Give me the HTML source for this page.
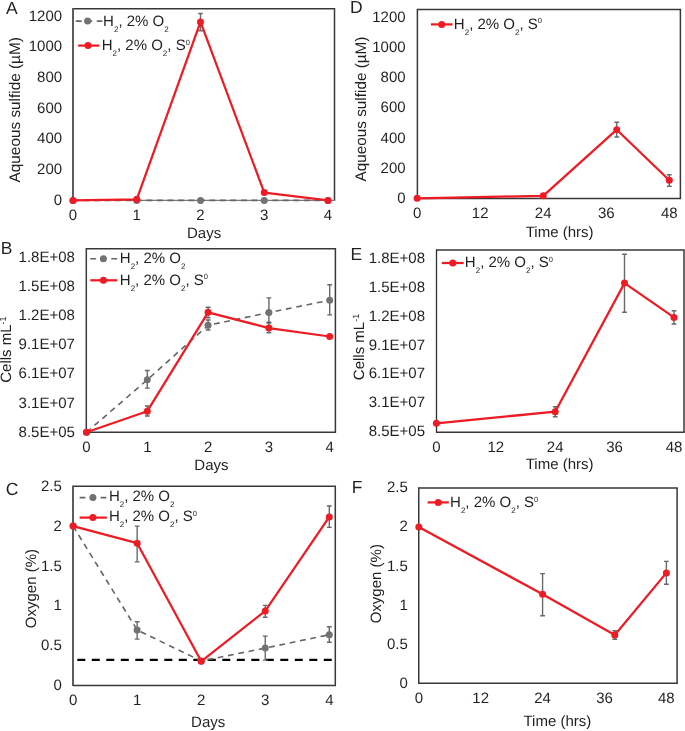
<!DOCTYPE html>
<html><head><meta charset="utf-8"><style>
html,body{margin:0;padding:0;background:#fff;}
body{width:685px;height:731px;overflow:hidden;}
svg{display:block;filter:blur(0.35px);}
text{font-family:"Liberation Sans",sans-serif;fill:#231f20;text-rendering:geometricPrecision;}
</style></head><body>
<svg width="685" height="731" viewBox="0 0 685 731">
<rect width="685" height="731" fill="#fff"/>
<path d="M73 8.75H334.5V200.4" fill="none" stroke="#3a3738" stroke-width="1.5"/>
<line x1="73" y1="8.05" x2="73" y2="201.1" stroke="#5f5b5c" stroke-width="2.0"/>
<line x1="73" y1="200.4" x2="335.2" y2="200.4" stroke="#7a7878" stroke-width="1.4"/>
<text x="62.1" y="204.5" text-anchor="end" font-size="15" >0</text>
<text x="62.1" y="173.84" text-anchor="end" font-size="15" >200</text>
<text x="62.1" y="143.18" text-anchor="end" font-size="15" >400</text>
<text x="62.1" y="112.52" text-anchor="end" font-size="15" >600</text>
<text x="62.1" y="81.86" text-anchor="end" font-size="15" >800</text>
<text x="62.1" y="51.2" text-anchor="end" font-size="15" >1000</text>
<text x="62.1" y="20.54" text-anchor="end" font-size="15" >1200</text>
<text x="73" y="220.3" text-anchor="middle" font-size="15" >0</text>
<text x="136.75" y="220.3" text-anchor="middle" font-size="15" >1</text>
<text x="200.5" y="220.3" text-anchor="middle" font-size="15" >2</text>
<text x="264.25" y="220.3" text-anchor="middle" font-size="15" >3</text>
<text x="328" y="220.3" text-anchor="middle" font-size="15" >4</text>
<text x="204.1" y="237.9" text-anchor="middle" font-size="15" >Days</text>
<text transform="translate(19.8 109.8) rotate(-90)" text-anchor="middle" font-size="15.35">Aqueous sulfide (µM)</text>
<text x="5.9" y="13.9" font-size="17.5">A</text>
<polyline points="73,200.4 136.75,200.4 200.5,200.4 264.25,200.4 328,200.4" fill="none" stroke="#686464" stroke-width="1.6" stroke-dasharray="5.8 4.7" stroke-linejoin="round"/>
<circle cx="73" cy="200.4" r="3.5" fill="#767171"/>
<circle cx="136.75" cy="200.4" r="3.5" fill="#767171"/>
<circle cx="200.5" cy="200.4" r="3.5" fill="#767171"/>
<circle cx="264.25" cy="200.4" r="3.5" fill="#767171"/>
<circle cx="328" cy="200.4" r="3.5" fill="#767171"/>
<path d="M200.5 13.5V30.7M198.1 13.5H202.9M198.1 30.7H202.9" stroke="#676a6a" stroke-width="1.4" fill="none"/>
<polyline points="73,200.4 136.75,199.3 200.5,21.9 264.25,192.6 328,200.4" fill="none" stroke="#ed1c24" stroke-width="2.25" stroke-linejoin="round"/>
<circle cx="73" cy="200.4" r="3.5" fill="#ed1c24"/>
<circle cx="136.75" cy="199.3" r="3.5" fill="#ed1c24"/>
<circle cx="200.5" cy="21.9" r="3.5" fill="#ed1c24"/>
<circle cx="264.25" cy="192.6" r="3.5" fill="#ed1c24"/>
<circle cx="328" cy="200.4" r="3.5" fill="#ed1c24"/>
<line x1="75.8" y1="21.1" x2="102.4" y2="21.1" stroke="#686464" stroke-width="1.6" stroke-dasharray="5.8 4.7"/>
<circle cx="87.6" cy="21.1" r="3.5" fill="#767171"/>
<text x="103.1" y="25.7" text-anchor="start" font-size="15" >H<tspan font-size="8" dy="6">2</tspan><tspan dy="-6">, 2% O</tspan><tspan font-size="8" dy="6">2</tspan></text>
<line x1="78.1" y1="45.6" x2="99.4" y2="45.6" stroke="#ed1c24" stroke-width="2.25"/>
<circle cx="88" cy="45.6" r="3.5" fill="#ed1c24"/>
<text x="101.7" y="50" text-anchor="start" font-size="15" >H<tspan font-size="8" dy="6">2</tspan><tspan dy="-6">, 2% O</tspan><tspan font-size="8" dy="6">2</tspan><tspan dy="-6">, S</tspan><tspan font-size="7.5" dy="-5.4">0</tspan></text>
<path d="M86.3 248.7H335.4V432.3" fill="none" stroke="#3a3738" stroke-width="1.5"/>
<line x1="86.3" y1="248" x2="86.3" y2="433" stroke="#3a3738" stroke-width="1.5"/>
<line x1="86.3" y1="432.3" x2="336.1" y2="432.3" stroke="#3a3738" stroke-width="1.5"/>
<text x="74.9" y="436.7" text-anchor="end" font-size="15" >8.5E+05</text>
<text x="74.9" y="407.55" text-anchor="end" font-size="15" >3.1E+07</text>
<text x="74.9" y="378.4" text-anchor="end" font-size="15" >6.1E+07</text>
<text x="74.9" y="349.25" text-anchor="end" font-size="15" >9.1E+07</text>
<text x="74.9" y="320.1" text-anchor="end" font-size="15" >1.2E+08</text>
<text x="74.9" y="290.95" text-anchor="end" font-size="15" >1.5E+08</text>
<text x="74.9" y="261.8" text-anchor="end" font-size="15" >1.8E+08</text>
<text x="86.5" y="452.2" text-anchor="middle" font-size="15" >0</text>
<text x="147.3" y="452.2" text-anchor="middle" font-size="15" >1</text>
<text x="208.1" y="452.2" text-anchor="middle" font-size="15" >2</text>
<text x="268.9" y="452.2" text-anchor="middle" font-size="15" >3</text>
<text x="329.7" y="452.2" text-anchor="middle" font-size="15" >4</text>
<text x="211.4" y="470.2" text-anchor="middle" font-size="15" >Days</text>
<text transform="translate(11.3 349.6) rotate(-90)" text-anchor="middle" font-size="15">Cells mL<tspan font-size="9" dy="-5">-1</tspan></text>
<text x="0.7" y="253.5" font-size="17.5">B</text>
<path d="M147.3 370.5V388.1M144.9 370.5H149.7M144.9 388.1H149.7" stroke="#676a6a" stroke-width="1.4" fill="none"/>
<path d="M208.1 320V330M205.7 320H210.5M205.7 330H210.5" stroke="#676a6a" stroke-width="1.4" fill="none"/>
<path d="M268.9 297.9V322.3M266.5 297.9H271.3M266.5 322.3H271.3" stroke="#676a6a" stroke-width="1.4" fill="none"/>
<path d="M329.7 284.7V314.9M327.3 284.7H332.1M327.3 314.9H332.1" stroke="#676a6a" stroke-width="1.4" fill="none"/>
<polyline points="86.5,432.3 147.3,379.8 208.1,325.3 268.9,312.6 329.7,300.2" fill="none" stroke="#686464" stroke-width="1.6" stroke-dasharray="5.8 4.7" stroke-linejoin="round"/>
<circle cx="86.5" cy="432.3" r="3.5" fill="#767171"/>
<circle cx="147.3" cy="379.8" r="3.5" fill="#767171"/>
<circle cx="208.1" cy="325.3" r="3.5" fill="#767171"/>
<circle cx="268.9" cy="312.6" r="3.5" fill="#767171"/>
<circle cx="329.7" cy="300.2" r="3.5" fill="#767171"/>
<path d="M147.3 406V416M144.9 406H149.7M144.9 416H149.7" stroke="#676a6a" stroke-width="1.4" fill="none"/>
<path d="M208.1 307.2V317.7M205.7 307.2H210.5M205.7 317.7H210.5" stroke="#676a6a" stroke-width="1.4" fill="none"/>
<path d="M268.9 323V332.8M266.5 323H271.3M266.5 332.8H271.3" stroke="#676a6a" stroke-width="1.4" fill="none"/>
<polyline points="86.5,432.3 147.3,411.2 208.1,312.3 268.9,328.1 329.7,336.5" fill="none" stroke="#ed1c24" stroke-width="2.25" stroke-linejoin="round"/>
<circle cx="86.5" cy="432.3" r="3.5" fill="#ed1c24"/>
<circle cx="147.3" cy="411.2" r="3.5" fill="#ed1c24"/>
<circle cx="208.1" cy="312.3" r="3.5" fill="#ed1c24"/>
<circle cx="268.9" cy="328.1" r="3.5" fill="#ed1c24"/>
<circle cx="329.7" cy="336.5" r="3.5" fill="#ed1c24"/>
<line x1="90.3" y1="258.7" x2="117.3" y2="258.7" stroke="#686464" stroke-width="1.6" stroke-dasharray="5.8 4.7"/>
<circle cx="103.4" cy="258.7" r="3.5" fill="#767171"/>
<text x="119.8" y="262.8" text-anchor="start" font-size="15" >H<tspan font-size="8" dy="6">2</tspan><tspan dy="-6">, 2% O</tspan><tspan font-size="8" dy="6">2</tspan></text>
<line x1="90.3" y1="280.3" x2="117.3" y2="280.3" stroke="#ed1c24" stroke-width="2.25"/>
<circle cx="103.4" cy="280.3" r="3.5" fill="#ed1c24"/>
<text x="119.8" y="284.5" text-anchor="start" font-size="15" >H<tspan font-size="8" dy="6">2</tspan><tspan dy="-6">, 2% O</tspan><tspan font-size="8" dy="6">2</tspan><tspan dy="-6">, S</tspan><tspan font-size="7.5" dy="-5.4">0</tspan></text>
<path d="M73 486.3H335.3V685.4" fill="none" stroke="#3a3738" stroke-width="1.5"/>
<line x1="73" y1="485.6" x2="73" y2="686.1" stroke="#5f5b5c" stroke-width="2.0"/>
<line x1="73" y1="685.4" x2="336" y2="685.4" stroke="#3a3738" stroke-width="1.5"/>
<text x="61.8" y="689.8" text-anchor="end" font-size="15" >0</text>
<text x="61.8" y="650.04" text-anchor="end" font-size="15" >0.5</text>
<text x="61.8" y="610.28" text-anchor="end" font-size="15" >1</text>
<text x="61.8" y="570.52" text-anchor="end" font-size="15" >1.5</text>
<text x="61.8" y="530.76" text-anchor="end" font-size="15" >2</text>
<text x="61.8" y="491" text-anchor="end" font-size="15" >2.5</text>
<text x="73.1" y="705.3" text-anchor="middle" font-size="15" >0</text>
<text x="137.15" y="705.3" text-anchor="middle" font-size="15" >1</text>
<text x="201.2" y="705.3" text-anchor="middle" font-size="15" >2</text>
<text x="265.25" y="705.3" text-anchor="middle" font-size="15" >3</text>
<text x="329.3" y="705.3" text-anchor="middle" font-size="15" >4</text>
<text x="208.2" y="726.7" text-anchor="middle" font-size="15" >Days</text>
<text transform="translate(35.6 588.6) rotate(-90)" text-anchor="middle" font-size="15">Oxygen (%)</text>
<text x="5.7" y="494.8" font-size="17.5">C</text>
<line x1="77.3" y1="659.9" x2="334" y2="659.9" stroke="#000" stroke-width="2.4" stroke-dasharray="8 6.5"/>
<path d="M137.15 621.7V639.1M134.75 621.7H139.55M134.75 639.1H139.55" stroke="#676a6a" stroke-width="1.4" fill="none"/>
<path d="M265.25 636.1V660.1M262.85 636.1H267.65M262.85 660.1H267.65" stroke="#676a6a" stroke-width="1.4" fill="none"/>
<path d="M329.3 626.7V642.3M326.9 626.7H331.7M326.9 642.3H331.7" stroke="#676a6a" stroke-width="1.4" fill="none"/>
<polyline points="73.1,526.1 137.15,630 201.2,661 265.25,648.1 329.3,634.7" fill="none" stroke="#686464" stroke-width="1.6" stroke-dasharray="5.8 4.7" stroke-linejoin="round"/>
<circle cx="73.1" cy="526.1" r="3.5" fill="#767171"/>
<circle cx="137.15" cy="630" r="3.5" fill="#767171"/>
<circle cx="201.2" cy="661" r="3.5" fill="#767171"/>
<circle cx="265.25" cy="648.1" r="3.5" fill="#767171"/>
<circle cx="329.3" cy="634.7" r="3.5" fill="#767171"/>
<path d="M137.15 526.1V561.9M134.75 526.1H139.55M134.75 561.9H139.55" stroke="#676a6a" stroke-width="1.4" fill="none"/>
<path d="M265.25 605.4V617.2M262.85 605.4H267.65M262.85 617.2H267.65" stroke="#676a6a" stroke-width="1.4" fill="none"/>
<path d="M329.3 506V527.4M326.9 506H331.7M326.9 527.4H331.7" stroke="#676a6a" stroke-width="1.4" fill="none"/>
<polyline points="73.1,526.1 137.15,543.2 201.2,661.3 265.25,610.9 329.3,516.9" fill="none" stroke="#ed1c24" stroke-width="2.25" stroke-linejoin="round"/>
<circle cx="73.1" cy="526.1" r="3.5" fill="#ed1c24"/>
<circle cx="137.15" cy="543.2" r="3.5" fill="#ed1c24"/>
<circle cx="201.2" cy="661.3" r="3.5" fill="#ed1c24"/>
<circle cx="265.25" cy="610.9" r="3.5" fill="#ed1c24"/>
<circle cx="329.3" cy="516.9" r="3.5" fill="#ed1c24"/>
<line x1="79.6" y1="497.6" x2="106.6" y2="497.6" stroke="#686464" stroke-width="1.6" stroke-dasharray="5.8 4.7"/>
<circle cx="92.9" cy="497.6" r="3.5" fill="#767171"/>
<text x="108.9" y="501.4" text-anchor="start" font-size="15" >H<tspan font-size="8" dy="6">2</tspan><tspan dy="-6">, 2% O</tspan><tspan font-size="8" dy="6">2</tspan></text>
<line x1="79.6" y1="517.6" x2="106.8" y2="517.6" stroke="#ed1c24" stroke-width="2.25"/>
<circle cx="92.9" cy="517.6" r="3.5" fill="#ed1c24"/>
<text x="108.9" y="521.4" text-anchor="start" font-size="15" >H<tspan font-size="8" dy="6">2</tspan><tspan dy="-6">, 2% O</tspan><tspan font-size="8" dy="6">2</tspan><tspan dy="-6">, S</tspan><tspan font-size="7.5" dy="-5.4">0</tspan></text>
<path d="M417.4 9.5H680.4V198.4" fill="none" stroke="#3a3738" stroke-width="1.5"/>
<line x1="417.4" y1="8.8" x2="417.4" y2="199.1" stroke="#3a3738" stroke-width="1.5"/>
<line x1="417.4" y1="198.4" x2="681.1" y2="198.4" stroke="#3a3738" stroke-width="1.5"/>
<text x="405.6" y="203.3" text-anchor="end" font-size="15" >0</text>
<text x="405.6" y="173" text-anchor="end" font-size="15" >200</text>
<text x="405.6" y="142.7" text-anchor="end" font-size="15" >400</text>
<text x="405.6" y="112.4" text-anchor="end" font-size="15" >600</text>
<text x="405.6" y="82.1" text-anchor="end" font-size="15" >800</text>
<text x="405.6" y="51.8" text-anchor="end" font-size="15" >1000</text>
<text x="405.6" y="21.5" text-anchor="end" font-size="15" >1200</text>
<text x="417.1" y="218.3" text-anchor="middle" font-size="15" >0</text>
<text x="480.15" y="218.3" text-anchor="middle" font-size="15" >12</text>
<text x="543.2" y="218.3" text-anchor="middle" font-size="15" >24</text>
<text x="606.24" y="218.3" text-anchor="middle" font-size="15" >36</text>
<text x="669.29" y="218.3" text-anchor="middle" font-size="15" >48</text>
<text x="559.6" y="237.3" text-anchor="middle" font-size="15" >Time (hrs)</text>
<text transform="translate(365.7 109) rotate(-90)" text-anchor="middle" font-size="15.3">Aqueous sulfide (µM)</text>
<text x="350.1" y="12.7" font-size="17.5">D</text>
<path d="M616.75 122.2V137M614.35 122.2H619.15M614.35 137H619.15" stroke="#676a6a" stroke-width="1.4" fill="none"/>
<path d="M669.29 174.8V186.2M666.89 174.8H671.69M666.89 186.2H671.69" stroke="#676a6a" stroke-width="1.4" fill="none"/>
<polyline points="417.1,198.3 543.2,195.8 616.75,129.7 669.29,180.2" fill="none" stroke="#ed1c24" stroke-width="2.25" stroke-linejoin="round"/>
<circle cx="417.1" cy="198.3" r="3.5" fill="#ed1c24"/>
<circle cx="543.2" cy="195.8" r="3.5" fill="#ed1c24"/>
<circle cx="616.75" cy="129.7" r="3.5" fill="#ed1c24"/>
<circle cx="669.29" cy="180.2" r="3.5" fill="#ed1c24"/>
<line x1="430.9" y1="24.4" x2="452.5" y2="24.4" stroke="#ed1c24" stroke-width="2.25"/>
<circle cx="441.7" cy="24.4" r="3.5" fill="#ed1c24"/>
<text x="453.85" y="28.7" text-anchor="start" font-size="15" >H<tspan font-size="8" dy="6">2</tspan><tspan dy="-6">, 2% O</tspan><tspan font-size="8" dy="6">2</tspan><tspan dy="-6">, S</tspan><tspan font-size="7.5" dy="-5.4">0</tspan></text>
<path d="M436.5 250H684V432.2" fill="none" stroke="#3a3738" stroke-width="1.5"/>
<line x1="436.5" y1="249.3" x2="436.5" y2="432.9" stroke="#2f2d2e" stroke-width="1.3"/>
<line x1="436.5" y1="432.2" x2="684.7" y2="432.2" stroke="#3a3738" stroke-width="1.5"/>
<text x="425" y="436" text-anchor="end" font-size="15" >8.5E+05</text>
<text x="425" y="407.22" text-anchor="end" font-size="15" >3.1E+07</text>
<text x="425" y="378.44" text-anchor="end" font-size="15" >6.1E+07</text>
<text x="425" y="349.66" text-anchor="end" font-size="15" >9.1E+07</text>
<text x="425" y="320.88" text-anchor="end" font-size="15" >1.2E+08</text>
<text x="425" y="292.1" text-anchor="end" font-size="15" >1.5E+08</text>
<text x="425" y="263.32" text-anchor="end" font-size="15" >1.8E+08</text>
<text x="436.4" y="452.1" text-anchor="middle" font-size="15" >0</text>
<text x="495.8" y="452.1" text-anchor="middle" font-size="15" >12</text>
<text x="555.2" y="452.1" text-anchor="middle" font-size="15" >24</text>
<text x="614.6" y="452.1" text-anchor="middle" font-size="15" >36</text>
<text x="674" y="452.1" text-anchor="middle" font-size="15" >48</text>
<text x="559.6" y="469.4" text-anchor="middle" font-size="15" >Time (hrs)</text>
<text transform="translate(363.8 347) rotate(-90)" text-anchor="middle" font-size="15">Cells mL<tspan font-size="9" dy="-5">-1</tspan></text>
<text x="350.4" y="260.3" font-size="17.5">E</text>
<path d="M555.2 406.7V416.7M552.8 406.7H557.6M552.8 416.7H557.6" stroke="#676a6a" stroke-width="1.4" fill="none"/>
<path d="M624.5 254.2V312.3M622.1 254.2H626.9M622.1 312.3H626.9" stroke="#676a6a" stroke-width="1.4" fill="none"/>
<path d="M674 310.8V324M671.6 310.8H676.4M671.6 324H676.4" stroke="#676a6a" stroke-width="1.4" fill="none"/>
<polyline points="436.4,423.3 555.2,411.7 624.5,283.1 674,317.4" fill="none" stroke="#ed1c24" stroke-width="2.25" stroke-linejoin="round"/>
<circle cx="436.4" cy="423.3" r="3.5" fill="#ed1c24"/>
<circle cx="555.2" cy="411.7" r="3.5" fill="#ed1c24"/>
<circle cx="624.5" cy="283.1" r="3.5" fill="#ed1c24"/>
<circle cx="674" cy="317.4" r="3.5" fill="#ed1c24"/>
<line x1="441.8" y1="263" x2="463.7" y2="263" stroke="#ed1c24" stroke-width="2.25"/>
<circle cx="452.75" cy="263" r="3.5" fill="#ed1c24"/>
<text x="464.85" y="267.3" text-anchor="start" font-size="15" >H<tspan font-size="8" dy="6">2</tspan><tspan dy="-6">, 2% O</tspan><tspan font-size="8" dy="6">2</tspan><tspan dy="-6">, S</tspan><tspan font-size="7.5" dy="-5.4">0</tspan></text>
<path d="M418.75 488H677.1V683.2" fill="none" stroke="#3a3738" stroke-width="1.5"/>
<line x1="418.75" y1="487.3" x2="418.75" y2="683.9" stroke="#3a3738" stroke-width="1.5"/>
<line x1="418.75" y1="683.2" x2="677.8" y2="683.2" stroke="#3a3738" stroke-width="1.5"/>
<text x="407.9" y="687.8" text-anchor="end" font-size="15" >0</text>
<text x="407.9" y="648.72" text-anchor="end" font-size="15" >0.5</text>
<text x="407.9" y="609.64" text-anchor="end" font-size="15" >1</text>
<text x="407.9" y="570.56" text-anchor="end" font-size="15" >1.5</text>
<text x="407.9" y="531.48" text-anchor="end" font-size="15" >2</text>
<text x="407.9" y="492.4" text-anchor="end" font-size="15" >2.5</text>
<text x="418.8" y="703.1" text-anchor="middle" font-size="15" >0</text>
<text x="480.7" y="703.1" text-anchor="middle" font-size="15" >12</text>
<text x="542.59" y="703.1" text-anchor="middle" font-size="15" >24</text>
<text x="604.49" y="703.1" text-anchor="middle" font-size="15" >36</text>
<text x="666.38" y="703.1" text-anchor="middle" font-size="15" >48</text>
<text x="557.4" y="725.5" text-anchor="middle" font-size="15" >Time (hrs)</text>
<text transform="translate(380.8 583.7) rotate(-90)" text-anchor="middle" font-size="15">Oxygen (%)</text>
<text x="351.7" y="493.4" font-size="17.5">F</text>
<path d="M542.59 573.6V615.7M540.19 573.6H544.99M540.19 615.7H544.99" stroke="#676a6a" stroke-width="1.4" fill="none"/>
<path d="M614.8 630.7V639.3M612.4 630.7H617.2M612.4 639.3H617.2" stroke="#676a6a" stroke-width="1.4" fill="none"/>
<path d="M666.38 561.4V584.3M663.98 561.4H668.78M663.98 584.3H668.78" stroke="#676a6a" stroke-width="1.4" fill="none"/>
<polyline points="418.8,526.9 542.59,594.3 614.8,635 666.38,572.9" fill="none" stroke="#ed1c24" stroke-width="2.25" stroke-linejoin="round"/>
<circle cx="418.8" cy="526.9" r="3.5" fill="#ed1c24"/>
<circle cx="542.59" cy="594.3" r="3.5" fill="#ed1c24"/>
<circle cx="614.8" cy="635" r="3.5" fill="#ed1c24"/>
<circle cx="666.38" cy="572.9" r="3.5" fill="#ed1c24"/>
<line x1="427.6" y1="502.4" x2="448.8" y2="502.4" stroke="#ed1c24" stroke-width="2.25"/>
<circle cx="438.2" cy="502.4" r="3.5" fill="#ed1c24"/>
<text x="450.05" y="507.2" text-anchor="start" font-size="15" >H<tspan font-size="8" dy="6">2</tspan><tspan dy="-6">, 2% O</tspan><tspan font-size="8" dy="6">2</tspan><tspan dy="-6">, S</tspan><tspan font-size="7.5" dy="-5.4">0</tspan></text>
</svg>
</body></html>
